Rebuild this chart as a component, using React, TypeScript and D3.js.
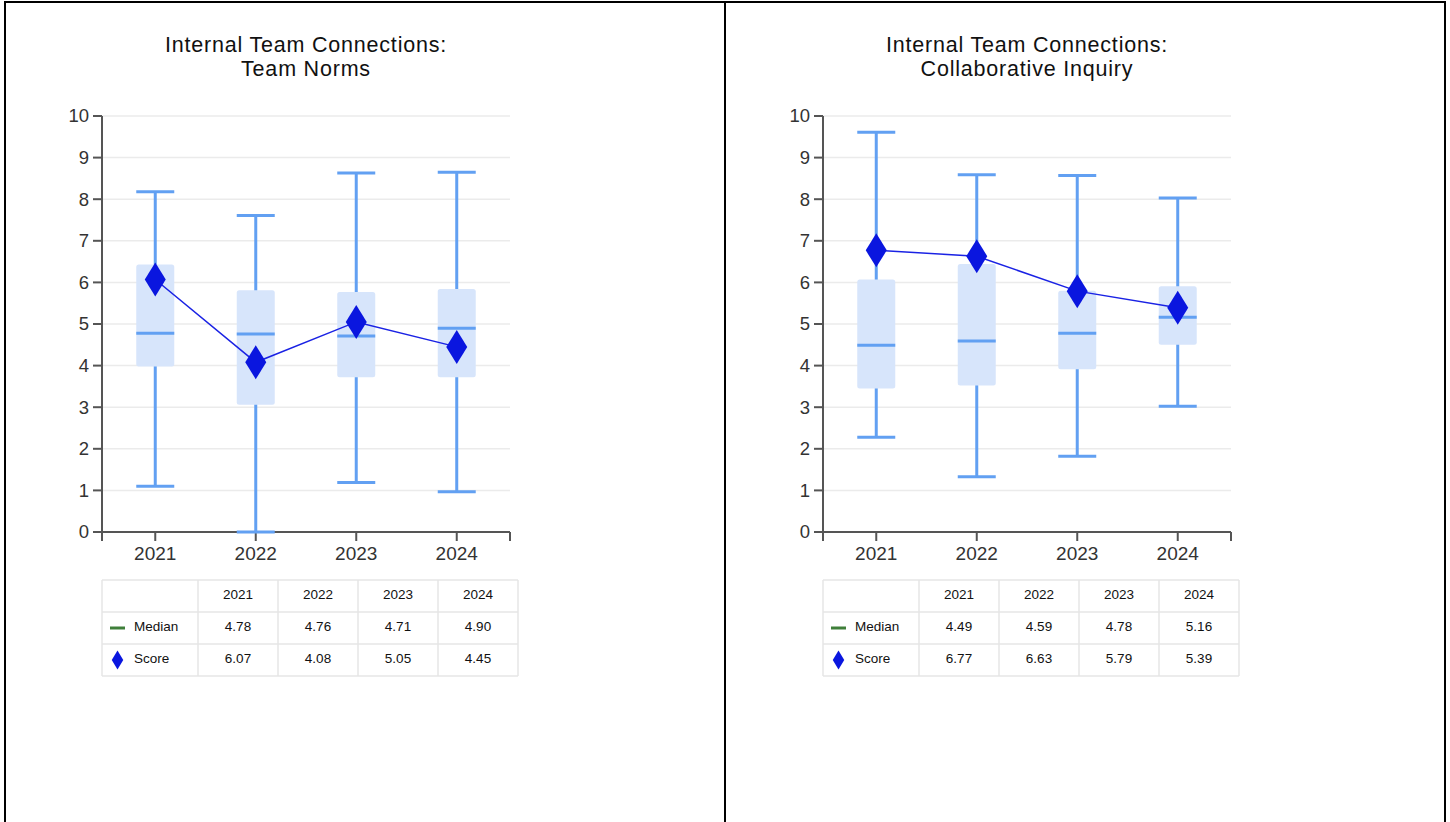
import React from 'react';
import * as d3 from 'd3';

const years = ['2021', '2022', '2023', '2024'];
const yTicks = [0, 1, 2, 3, 4, 5, 6, 7, 8, 9, 10];

const normsMin = [1.10, 0.00, 1.19, 0.97];
const normsQ1 = [3.98, 3.06, 3.72, 3.72];
const normsMedian = [4.78, 4.76, 4.71, 4.90];
const normsQ3 = [6.43, 5.81, 5.77, 5.84];
const normsMax = [8.18, 7.61, 8.63, 8.65];
const normsScore = [6.07, 4.08, 5.05, 4.45];

const inquiryMin = [2.28, 1.33, 1.82, 3.02];
const inquiryQ1 = [3.45, 3.52, 3.91, 4.50];
const inquiryMedian = [4.49, 4.59, 4.78, 5.16];
const inquiryQ3 = [6.07, 6.44, 5.80, 5.91];
const inquiryMax = [9.61, 8.59, 8.57, 8.03];
const inquiryScore = [6.77, 6.63, 5.79, 5.39];

const FONT = '"Liberation Sans", Arial, Helvetica, sans-serif';
const WHISKER = '#62a0f2';
const BOXFILL = '#d7e5fb';
const DIAMOND = '#0a16df';
const LINE = '#1a22e4';

type Panel = {
  title: string[];
  min: number[]; q1: number[]; median: number[]; q3: number[]; max: number[]; score: number[];
};

const panels: Panel[] = [
  { title: ['Internal Team Connections:', 'Team Norms'], min: normsMin, q1: normsQ1, median: normsMedian, q3: normsQ3, max: normsMax, score: normsScore },
  { title: ['Internal Team Connections:', 'Collaborative Inquiry'], min: inquiryMin, q1: inquiryQ1, median: inquiryMedian, q3: inquiryQ3, max: inquiryMax, score: inquiryScore },
];

function diamond(cx: number, cy: number, w: number, h: number) {
  return `M${cx},${cy - h / 2}L${cx + w / 2},${cy}L${cx},${cy + h / 2}L${cx - w / 2},${cy}Z`;
}

function ChartPanel({ p, ox }: { p: Panel; ox: number }) {
  const left = 102 + ox;
  const right = 510 + ox;
  const x = d3.scalePoint<string>().domain(years).range([left, right]).padding(0.53);
  const y = d3.scaleLinear().domain([0, 10]).range([532, 116]);
  const bw = 38;
  const line = d3.line<number>().x((_, i) => x(years[i])!).y((d) => y(d));
  const cx = (left + right) / 2;

  const tLeft = left;
  const firstCol = 96;
  const colW = 80;
  const rowH = 32;
  const tTop = 580;
  const tWidth = firstCol + colW * years.length;

  return (
    <g>
      <text x={cx} y={52} textAnchor="middle" fontSize={21.5} letterSpacing={0.8} fill="#111" fontFamily={FONT}>{p.title[0]}</text>
      <text x={cx} y={76} textAnchor="middle" fontSize={21.5} letterSpacing={0.8} fill="#111" fontFamily={FONT}>{p.title[1]}</text>

      {yTicks.filter((t) => t > 0).map((t) => (
        <line key={'g' + t} x1={left} x2={right} y1={y(t)} y2={y(t)} stroke="#ebebeb" strokeWidth={1.5} />
      ))}
      {/* y axis */}
      <line x1={left} x2={left} y1={y(10)} y2={y(0)} stroke="#555" strokeWidth={2} />
      {yTicks.map((t) => (
        <g key={'yt' + t}>
          <line x1={left - 9} x2={left} y1={y(t)} y2={y(t)} stroke="#555" strokeWidth={2} />
          <text x={left - 13} y={y(t)} dy="0.35em" textAnchor="end" fontSize={18.5} fill="#333" fontFamily={FONT}>{t}</text>
        </g>
      ))}
      {/* x axis */}
      <line x1={left} x2={right} y1={y(0)} y2={y(0)} stroke="#555" strokeWidth={2} />
      <line x1={left} x2={left} y1={y(0)} y2={y(0) + 9} stroke="#555" strokeWidth={2} />
      <line x1={right} x2={right} y1={y(0)} y2={y(0) + 9} stroke="#555" strokeWidth={2} />
      {years.map((yr) => (
        <g key={'xt' + yr}>
          <line x1={x(yr)} x2={x(yr)} y1={y(0)} y2={y(0) + 9} stroke="#555" strokeWidth={2} />
          <text x={x(yr)} y={560} textAnchor="middle" fontSize={19} fill="#333" fontFamily={FONT}>{yr}</text>
        </g>
      ))}

      {years.map((yr, i) => {
        const c = x(yr)!;
        return (
          <g key={'b' + yr}>
            <line x1={c} x2={c} y1={y(p.max[i])} y2={y(p.min[i])} stroke={WHISKER} strokeWidth={3} />
            <line x1={c - bw / 2} x2={c + bw / 2} y1={y(p.max[i])} y2={y(p.max[i])} stroke={WHISKER} strokeWidth={3} />
            <line x1={c - bw / 2} x2={c + bw / 2} y1={y(p.min[i])} y2={y(p.min[i])} stroke={WHISKER} strokeWidth={3} />
            <rect x={c - bw / 2} y={y(p.q3[i])} width={bw} height={y(p.q1[i]) - y(p.q3[i])} rx={2.5} fill={BOXFILL} />
            <line x1={c - bw / 2} x2={c + bw / 2} y1={y(p.median[i])} y2={y(p.median[i])} stroke={WHISKER} strokeWidth={3} />
          </g>
        );
      })}
      <path d={line(p.score) || ''} fill="none" stroke={LINE} strokeWidth={1.5} />
      {years.map((yr, i) => (
        <path key={'d' + yr} d={diamond(x(yr)!, y(p.score[i]), 21, 34)} fill={DIAMOND} />
      ))}

      {/* table */}
      <g fontFamily={FONT} fontSize={13.5} fill="#111">
        {[0, 1, 2, 3].map((r) => (
          <line key={'tr' + r} x1={tLeft} x2={tLeft + tWidth} y1={tTop + r * rowH} y2={tTop + r * rowH} stroke="#e6e6e6" strokeWidth={1.5} />
        ))}
        {[0, 1, 2, 3, 4, 5].map((cI) => {
          const xx = cI === 0 ? tLeft : tLeft + firstCol + colW * (cI - 1);
          return <line key={'tc' + cI} x1={xx} x2={xx} y1={tTop} y2={tTop + 3 * rowH} stroke="#e6e6e6" strokeWidth={1.5} />;
        })}
        {years.map((yr, i) => (
          <g key={'tv' + yr}>
            <text x={tLeft + firstCol + colW * (i + 0.5)} y={tTop + rowH * 0.5 - 2} dy="0.35em" textAnchor="middle">{yr}</text>
            <text x={tLeft + firstCol + colW * (i + 0.5)} y={tTop + rowH * 1.5 - 2} dy="0.35em" textAnchor="middle">{p.median[i].toFixed(2)}</text>
            <text x={tLeft + firstCol + colW * (i + 0.5)} y={tTop + rowH * 2.5 - 2} dy="0.35em" textAnchor="middle">{p.score[i].toFixed(2)}</text>
          </g>
        ))}
        <line x1={tLeft + 8} x2={tLeft + 23} y1={tTop + rowH * 1.5} y2={tTop + rowH * 1.5} stroke="#3f7f3a" strokeWidth={3} />
        <text x={tLeft + 32} y={tTop + rowH * 1.5 - 2} dy="0.35em">Median</text>
        <path d={diamond(tLeft + 15.5, tTop + rowH * 2.5, 11.5, 19)} fill={DIAMOND} />
        <text x={tLeft + 32} y={tTop + rowH * 2.5 - 2} dy="0.35em">Score</text>
      </g>
    </g>
  );
}

export default function App() {
  return (
    <svg width={1450} height={822} style={{ position: 'absolute', left: 0, top: 0, display: 'block', background: '#fff' }}>
      <rect x={0} y={0} width={1450} height={822} fill="#fff" />
      <line x1={4} x2={1446} y1={2} y2={2} stroke="#000" strokeWidth={2} />
      <line x1={5} x2={5} y1={1} y2={822} stroke="#000" strokeWidth={2} />
      <line x1={725} x2={725} y1={1} y2={822} stroke="#000" strokeWidth={2} />
      <line x1={1445} x2={1445} y1={1} y2={822} stroke="#000" strokeWidth={2} />
      {panels.map((p, i) => (
        <ChartPanel key={i} p={p} ox={i * 721} />
      ))}
    </svg>
  );
}
